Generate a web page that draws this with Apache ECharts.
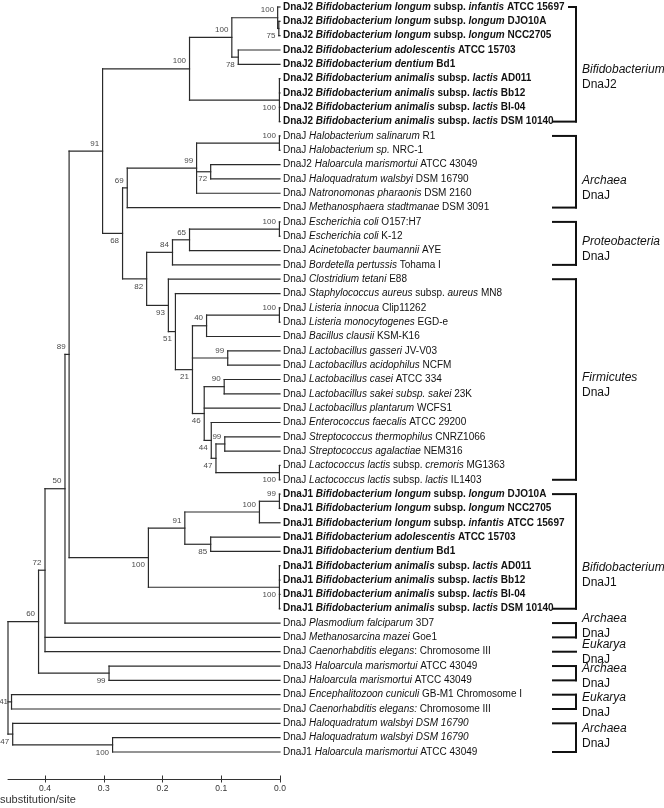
<!DOCTYPE html>
<html><head><meta charset="utf-8">
<script src="https://cdn.jsdelivr.net/npm/echarts@6/dist/echarts.min.js"></script>
<style>html,body{margin:0;padding:0;background:#fff}#c{width:664px;height:808px}</style>
</head><body><div id="c"></div>
<script>
// ---- DATA ----
// leaf labels (top to bottom); text between _ _ is italic
const leafLabels = [
 'DnaJ2 _Bifidobacterium longum_ subsp. _infantis_ ATCC 15697',
 'DnaJ2 _Bifidobacterium longum_ subsp. _longum_ DJO10A',
 'DnaJ2 _Bifidobacterium longum_ subsp. _longum_ NCC2705',
 'DnaJ2 _Bifidobacterium adolescentis_ ATCC 15703',
 'DnaJ2 _Bifidobacterium dentium_ Bd1',
 'DnaJ2 _Bifidobacterium animalis_ subsp. _lactis_ AD011',
 'DnaJ2 _Bifidobacterium animalis_ subsp. _lactis_ Bb12',
 'DnaJ2 _Bifidobacterium animalis_ subsp. _lactis_ Bl-04',
 'DnaJ2 _Bifidobacterium animalis_ subsp. _lactis_ DSM 10140',
 'DnaJ _Halobacterium salinarum_ R1',
 'DnaJ _Halobacterium sp._ NRC-1',
 'DnaJ2 _Haloarcula marismortui_ ATCC 43049',
 'DnaJ _Haloquadratum walsbyi_ DSM 16790',
 'DnaJ _Natronomonas pharaonis_ DSM 2160',
 'DnaJ _Methanosphaera stadtmanae_ DSM 3091',
 'DnaJ _Escherichia coli_ O157:H7',
 'DnaJ _Escherichia coli_ K-12',
 'DnaJ _Acinetobacter baumannii_ AYE',
 'DnaJ _Bordetella pertussis_ Tohama I',
 'DnaJ _Clostridium tetani_ E88',
 'DnaJ _Staphylococcus aureus_ subsp. _aureus_ MN8',
 'DnaJ _Listeria innocua_ Clip11262',
 'DnaJ _Listeria monocytogenes_ EGD-e',
 'DnaJ _Bacillus clausii_ KSM-K16',
 'DnaJ _Lactobacillus gasseri_ JV-V03',
 'DnaJ _Lactobacillus acidophilus_ NCFM',
 'DnaJ _Lactobacillus casei_ ATCC 334',
 'DnaJ _Lactobacillus sakei subsp. sakei_ 23K',
 'DnaJ _Lactobacillus plantarum_ WCFS1',
 'DnaJ _Enterococcus faecalis_ ATCC 29200',
 'DnaJ _Streptococcus thermophilus_ CNRZ1066',
 'DnaJ _Streptococcus agalactiae_ NEM316',
 'DnaJ _Lactococcus lactis_ subsp. _cremoris_ MG1363',
 'DnaJ _Lactococcus lactis_ subsp. _lactis_ IL1403',
 'DnaJ1 _Bifidobacterium longum_ subsp. _longum_ DJO10A',
 'DnaJ1 _Bifidobacterium longum_ subsp. _longum_ NCC2705',
 'DnaJ1 _Bifidobacterium longum_ subsp. _infantis_ ATCC 15697',
 'DnaJ1 _Bifidobacterium adolescentis_ ATCC 15703',
 'DnaJ1 _Bifidobacterium dentium_ Bd1',
 'DnaJ1 _Bifidobacterium animalis_ subsp. _lactis_ AD011',
 'DnaJ1 _Bifidobacterium animalis_ subsp. _lactis_ Bb12',
 'DnaJ1 _Bifidobacterium animalis_ subsp. _lactis_ Bl-04',
 'DnaJ1 _Bifidobacterium animalis_ subsp. _lactis_ DSM 10140',
 'DnaJ _Plasmodium falciparum_ 3D7',
 'DnaJ _Methanosarcina mazei_ Goe1',
 'DnaJ _Caenorhabditis elegans_: Chromosome III',
 'DnaJ3 _Haloarcula marismortui_ ATCC 43049',
 'DnaJ _Haloarcula marismortui_ ATCC 43049',
 'DnaJ _Encephalitozoon cuniculi_ GB-M1 Chromosome I',
 'DnaJ _Caenorhabditis elegans:_ Chromosome III',
 'DnaJ _Haloquadratum walsbyi DSM 16790_',
 'DnaJ _Haloquadratum walsbyi DSM 16790_',
 'DnaJ1 _Haloarcula marismortui_ ATCC 43049'
];
const boldLeaves = [0,1,2,3,4,5,6,7,8,34,35,36,37,38,39,40,41,42];

// internal nodes: [name, height (substitution/site), children (leaf index or node name), bootstrap, label side a=above b=below m=middle]
const nodes = [
 ['l75',   0.002, [1,2], '75', 'b'],
 ['l100',  0.004, [0,'l75'], '100', 'a'],
 ['n78',   0.071, [3,4], '78', 'b'],
 ['n100a', 0.082, ['l100','n78'], '100', 'a'],
 ['anim2', 0.001, [5,6,7,8], '100', 'b'],
 ['n100b', 0.154, ['n100a','anim2'], '100', 'a'],
 ['halo100',0.001, [9,10], '100', 'a'],
 ['n72',   0.118, [11,12], '72', 'b'],
 ['n99',   0.142, ['halo100','n72',13], '99', 'a'],
 ['n69',   0.260, ['n99',14], '69', 'a'],
 ['ec100', 0.001, [15,16], '100', 'a'],
 ['n65',   0.154, ['ec100',17], '65', 'a'],
 ['n84',   0.183, ['n65',18], '84', 'a'],
 ['list100',0.001, [21,22], '100', 'a'],
 ['n40',   0.125, ['list100',23], '40', 'a'],
 ['n99g',  0.089, [24,25], '99', 'a'],
 ['n90',   0.095, [26,27], '90', 'a'],
 ['n99s',  0.094, [30,31], '99', 'a'],
 ['lc100', 0.001, [32,33], '100', 'b'],
 ['n47',   0.109, ['n99s','lc100'], '47', 'b'],
 ['n44',   0.117, [29,'n47'], '44', 'b'],
 ['n46',   0.129, ['n90',28,'n44'], '46', 'b'],
 ['n21',   0.149, ['n40','n99g','n46'], '21', 'b'],
 ['n51',   0.178, [20,'n21'], '51', 'b'],
 ['n93',   0.190, [19,'n51'], '93', 'b'],
 ['n82',   0.227, ['n84','n93'], '82', 'b'],
 ['n68',   0.268, ['n69','n82'], '68', 'b'],
 ['n91',   0.302, ['n100b','n68'], '91', 'a'],
 ['j99',   0.001, [34,35], '99', 'a'],
 ['j100',  0.035, ['j99',36], '100', 'a'],
 ['j85',   0.118, [37,38], '85', 'b'],
 ['j91',   0.162, ['j100','j85'], '91', 'a'],
 ['anim1', 0.001, [39,40,41,42], '100', 'b'],
 ['J100',  0.224, ['j91','anim1'], '100', 'b'],
 ['n89',   0.359, ['n91','J100'], '89', 'a'],
 ['n50',   0.366, ['n89',43], '50', 'a'],
 ['n72b',  0.400, ['n50',44,45], '72', 'a'],
 ['h99',   0.291, [46,47], '99', 'b'],
 ['n60',   0.411, ['n72b','h99'], '60', 'a'],
 ['n41',   0.457, [48,49], '41', 'm'],
 ['h100',  0.285, [51,52], '100', 'b'],
 ['n47b',  0.455, [50,'h100'], '47', 'b'],
 ['root',  0.463, ['n60','n41','n47b'], '', '']
];

// clade brackets: [first leaf, last leaf, italic name, second line, label centre (row units)]
const clades = [
 [0, 8, 'Bifidobacterium', 'DnaJ2', 4.92],
 [9, 14, 'Archaea', 'DnaJ', 12.63],
 [15, 18, 'Proteobacteria', 'DnaJ', 16.9],
 [19, 33, 'Firmicutes', 'DnaJ', 26.42],
 [34, 42, 'Bifidobacterium', 'DnaJ1', 39.68],
 [43, 44, 'Archaea', 'DnaJ', 43.23],
 [45, 45, 'Eukarya', 'DnaJ', 45.05],
 [46, 47, 'Archaea', 'DnaJ', 46.7],
 [48, 49, 'Eukarya', 'DnaJ', 48.72],
 [50, 52, 'Archaea', 'DnaJ', 50.92]
];

const scaleTicks = [0, 0.1, 0.2, 0.3, 0.4];
const scaleName = 'substitution/site';

// ---- BUILD ----
const FONT = '"Liberation Sans", Arial, Helvetica, sans-serif';
const nodeMap = {};
nodes.forEach(n => nodeMap[n[0]] = {h: n[1], children: n[2], sup: n[3], pos: n[4]});
function yOf(c) {
  if (typeof c === 'number') return c;
  const n = nodeMap[c];
  if (n.y === undefined) { const ys = n.children.map(yOf); n.y = (Math.min(...ys) + Math.max(...ys)) / 2; }
  return n.y;
}
function hOf(c) { return typeof c === 'number' ? 0 : nodeMap[c].h; }
const segs = [];
const supportData = [];
nodes.forEach(n => {
  const nd = nodeMap[n[0]];
  const ys = nd.children.map(yOf);
  segs.push([nd.h, Math.min(...ys), nd.h, Math.max(...ys)]);
  nd.children.forEach(c => segs.push([nd.h, yOf(c), hOf(c), yOf(c)]));
  if (nd.sup) supportData.push([nd.h, yOf(n[0]), nd.sup, nd.pos]);
});

function richLabel(s, bold) {
  return s.split('_').map((part, k) => {
    if (!part) return '';
    const st = (bold ? 'b' : 'n') + (k % 2 ? 'i' : '');
    return '{' + st + '|' + part + '}';
  }).join('');
}
const LFS = 10;
const leafRich = {
  n: {fontSize: LFS, fontFamily: FONT, fill: '#111'},
  ni: {fontSize: LFS, fontFamily: FONT, fontStyle: 'italic', fill: '#111'},
  b: {fontSize: LFS, fontFamily: FONT, fontWeight: 'bold', fill: '#111'},
  bi: {fontSize: LFS, fontFamily: FONT, fontWeight: 'bold', fontStyle: 'italic', fill: '#111'}
};
const cladeRich = {
  i: {fontSize: 12, fontFamily: FONT, fontStyle: 'italic', fill: '#111', lineHeight: 15},
  n: {fontSize: 12, fontFamily: FONT, fill: '#111', lineHeight: 15}
};

const chart = echarts.init(document.getElementById('c'));
const LINE = '#2a2a2a';
const gridBox = {left: 8, right: 384, top: 7, bottom: 56};
const option = {
  animation: false,
  backgroundColor: '#fff',
  title: {text: scaleName, left: 0, top: 794, padding: 0,
    textStyle: {fontSize: 11, fontWeight: 'normal', color: '#333', fontFamily: FONT}},
  grid: [Object.assign({}, gridBox), Object.assign({}, gridBox)],
  xAxis: [{
    gridIndex: 0, type: 'value', inverse: true, min: 0, max: 0.463, position: 'bottom', offset: 27,
    splitLine: {show: false},
    axisLine: {onZero: false, lineStyle: {color: '#333', width: 1}},
    axisTick: {show: true, length: 3.5, customValues: scaleTicks, lineStyle: {color: '#333'}},
    axisLabel: {customValues: scaleTicks, formatter: v => v.toFixed(1), fontSize: 8.5, color: '#333', margin: 5, fontFamily: FONT}
  }, {
    gridIndex: 1, type: 'value', inverse: true, min: 0, max: 0.463, position: 'bottom', offset: 27,
    splitLine: {show: false}, axisLine: {show: false, onZero: false}, axisLabel: {show: false},
    axisTick: {show: true, inside: true, length: 3.5, customValues: scaleTicks, lineStyle: {color: '#333'}}
  }],
  yAxis: [
    {gridIndex: 0, type: 'value', inverse: true, min: 0, max: 52, show: false},
    {gridIndex: 1, type: 'value', inverse: true, min: 0, max: 52, show: false}
  ],
  series: [
    {
      type: 'custom', name: 'tree', clip: false, silent: true,
      encode: {x: [0, 2], y: [1, 3]},
      data: segs,
      renderItem: (params, api) => {
        const p1 = api.coord([api.value(0), api.value(1)]);
        const p2 = api.coord([api.value(2), api.value(3)]);
        return {type: 'line', shape: {x1: p1[0], y1: p1[1], x2: p2[0], y2: p2[1]},
          style: {stroke: LINE, lineWidth: 1.2, lineCap: 'square'}};
      }
    },
    {
      type: 'custom', name: 'support', clip: false, silent: true,
      data: supportData.map(s => [s[0], s[1]]),
      renderItem: (params, api) => {
        const s = supportData[params.dataIndex];
        const p = api.coord([s[0], s[1]]);
        const dy = s[3] === 'a' ? -7.5 : (s[3] === 'b' ? 7.5 : 0);
        return {type: 'text', x: p[0] - 3.5, y: p[1] + dy,
          style: {text: s[2], align: 'right', verticalAlign: 'middle', fill: '#4a4a4a', fontSize: 8, fontFamily: FONT}};
      }
    },
    {
      type: 'custom', name: 'leaves', clip: false, silent: true,
      data: leafLabels.map((s, i) => [0, i]),
      renderItem: (params, api) => {
        const i = params.dataIndex;
        const p = api.coord([0, i]);
        return {type: 'text', x: p[0] + 3, y: p[1],
          style: {text: richLabel(leafLabels[i], boldLeaves.indexOf(i) >= 0), rich: leafRich,
            align: 'left', verticalAlign: 'middle', fontSize: LFS, fontFamily: FONT, fill: '#111'}};
      }
    },
    {
      type: 'custom', name: 'clades', clip: false, silent: true,
      data: clades.map(c => [0, c[0]]),
      renderItem: (params, api) => {
        const c = clades[params.dataIndex];
        const yT = api.coord([0, c[0]])[1];
        const yB = api.coord([0, c[1]])[1];
        const yL = api.coord([0, c[4]])[1];
        const xV = 576, xA = 552;
        const st = {stroke: '#111', lineWidth: 2};
        const ch = [{type: 'line', shape: {x1: params.dataIndex === 0 ? 568 : xA, y1: yT, x2: xV + 1, y2: yT}, style: st}];
        if (c[1] !== c[0]) {
          ch.push({type: 'line', shape: {x1: xA, y1: yB, x2: xV + 1, y2: yB}, style: st});
          ch.push({type: 'line', shape: {x1: xV, y1: yT - 1, x2: xV, y2: yB + 1}, style: st});
        }
        ch.push({type: 'text', x: 582, y: yL,
          style: {text: '{i|' + c[2] + '}\n{n|' + c[3] + '}', rich: cladeRich,
            align: 'left', verticalAlign: 'middle', fontSize: 12, fontFamily: FONT, fill: '#111'}});
        return {type: 'group', children: ch};
      }
    }
  ]
};
chart.setOption(option);
</script>
</body></html>
